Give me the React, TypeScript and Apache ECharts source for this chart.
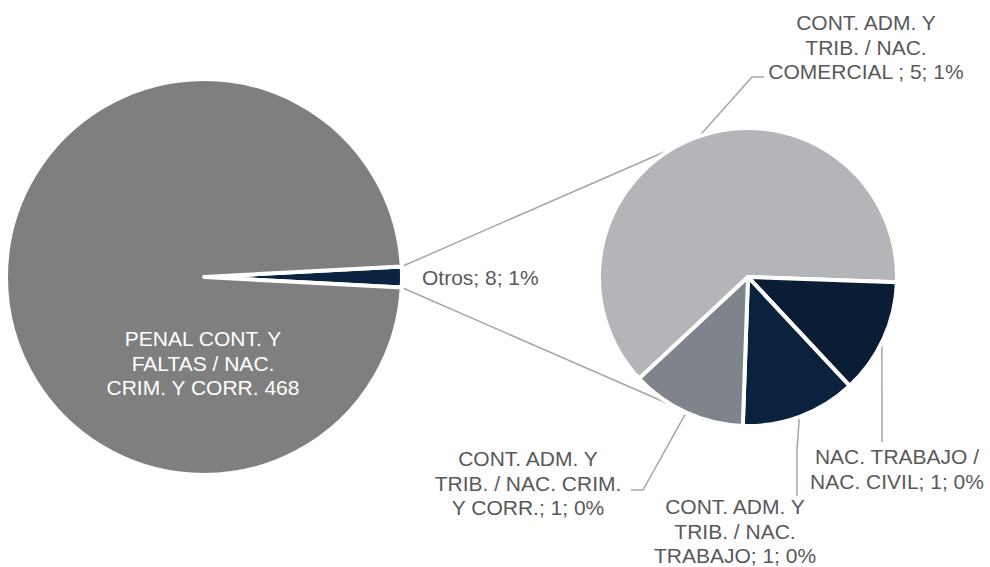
import React, { useEffect, useRef } from "react";
import * as echarts from "echarts";

// ---- Data ----
const primaryNames = ["Otros", "PENAL CONT. Y\nFALTAS / NAC.\nCRIM. Y CORR."];
const penalValue = 468;
const secondaryNames = [
  "CONT. ADM. Y\nTRIB. / NAC.\nCOMERCIAL ",
  "NAC. TRABAJO /\nNAC. CIVIL",
  "CONT. ADM. Y\nTRIB. / NAC.\nTRABAJO",
  "CONT. ADM. Y\nTRIB. / NAC. CRIM.\nY CORR.",
];
const secondaryValues = [5, 1, 1, 1];
const primaryColors = ["#0B2340", "#7F7F7F"];
const secondaryColors = ["#B4B5B8", "#0A1D35", "#0B223F", "#7E838C"];

// ---- Layout ----
const C1 = [204, 277];
const R1 = 196;
const C2 = [748, 277];
const R2 = 147;
const BORDER = 4;
const SECOND_START = 223;
const LINE_COLOR = "#A6A6A6";
const TEXT_COLOR = "#595959";
const FONT = "'Liberation Sans', Arial, sans-serif";
const FONT_SIZE = 21;
const LINE_H = 24.5;
const secondaryLabelLayout = [
  { x: 866, y: 47, elbow: [752, 77], end: [764, 77] },
  { x: 897, y: 469, elbow: [882, 400], end: [882, 442] },
  { x: 735, y: 531, elbow: [797, 450], end: [797, 496] },
  { x: 528, y: 483, elbow: [643, 490], end: [631, 490] },
];

export default function App() {
  const ref = useRef<HTMLDivElement>(null);
  useEffect(() => {
    if (!ref.current) return;
    const chart = echarts.init(ref.current, undefined, { renderer: "svg" });
    const otros = secondaryValues.reduce((a, b) => a + b, 0);
    const primaryValues = [otros, penalValue];
    const total = otros + penalValue;
    const pct = (v: number) => Math.floor((v / total) * 100);
    const firstStart = ((otros / total) * 360) / 2;
    const rad = Math.PI / 180;

    const secMid = (i: number) => {
      let before = 0;
      for (let k = 0; k < i; k++) before += secondaryValues[k];
      return SECOND_START - ((before + secondaryValues[i] / 2) * 360) / otros;
    };

    const conn = [firstStart, -firstStart].map((a, j) => {
      const b = j === 0 ? 120 : 240;
      return {
        type: "line",
        silent: true,
        shape: {
          x1: C1[0] + (R1 + 2) * Math.cos(a * rad),
          y1: C1[1] - (R1 + 2) * Math.sin(a * rad),
          x2: C2[0] + (R2 + 2) * Math.cos(b * rad),
          y2: C2[1] - (R2 + 2) * Math.sin(b * rad),
        },
        style: { stroke: LINE_COLOR, lineWidth: 1.5 },
      };
    });

    const baseLabel = {
      fontFamily: FONT,
      fontSize: FONT_SIZE,
      lineHeight: LINE_H,
      color: TEXT_COLOR,
      align: "center",
      overflow: "none",
      width: 300,
    };

    chart.setOption({
      animation: false,
      backgroundColor: "#ffffff",
      graphic: conn,
      series: [
        {
          type: "pie",
          center: C1,
          radius: R1 + BORDER / 2,
          startAngle: firstStart,
          clockwise: true,
          silent: true,
          emphasis: { disabled: true },
          itemStyle: { borderColor: "#ffffff", borderWidth: BORDER },
          labelLine: { show: false },
          label: { ...baseLabel },
          data: primaryNames.map((n, i) => ({
            name: n,
            value: primaryValues[i],
            itemStyle: { color: primaryColors[i] },
            label:
              i === 0
                ? { position: "outside", formatter: (p: any) => `${p.name}; ${p.value}; ${pct(p.value)}%` }
                : { position: "inside", color: "#ffffff", formatter: (p: any) => `${p.name} ${p.value}` },
          })),
          labelLayout: (p: any) =>
            p.dataIndex === 0
              ? { x: 422, y: C1[1], align: "left", verticalAlign: "middle" }
              : { x: C1[0] - 1, y: 363, align: "center", verticalAlign: "middle" },
        },
        {
          type: "pie",
          center: C2,
          radius: R2 + BORDER / 2,
          startAngle: SECOND_START,
          clockwise: true,
          silent: true,
          emphasis: { disabled: true },
          itemStyle: { borderColor: "#ffffff", borderWidth: BORDER },
          label: {
            ...baseLabel,
            position: "outside",
            formatter: (p: any) => `${p.name}; ${p.value}; ${pct(p.value)}%`,
          },
          labelLine: { show: true, lineStyle: { color: LINE_COLOR, width: 1.5 } },
          data: secondaryNames.map((n, i) => ({
            name: n,
            value: secondaryValues[i],
            itemStyle: { color: secondaryColors[i] },
          })),
          labelLayout: (p: any) => {
            const i = p.dataIndex;
            const L = secondaryLabelLayout[i];
            const a = secMid(i) * rad;
            const sx = C2[0] + R2 * Math.cos(a);
            const sy = C2[1] - R2 * Math.sin(a);
            return {
              x: L.x,
              y: L.y,
              align: "center",
              verticalAlign: "middle",
              width: 300,
              labelLinePoints: [[sx, sy], L.elbow, L.end],
            };
          },
        },
      ],
    });
    return () => chart.dispose();
  }, []);
  return (
    <div
      ref={ref}
      style={{ position: "fixed", left: 0, top: 0, width: 990, height: 567, background: "#fff" }}
    />
  );
}
